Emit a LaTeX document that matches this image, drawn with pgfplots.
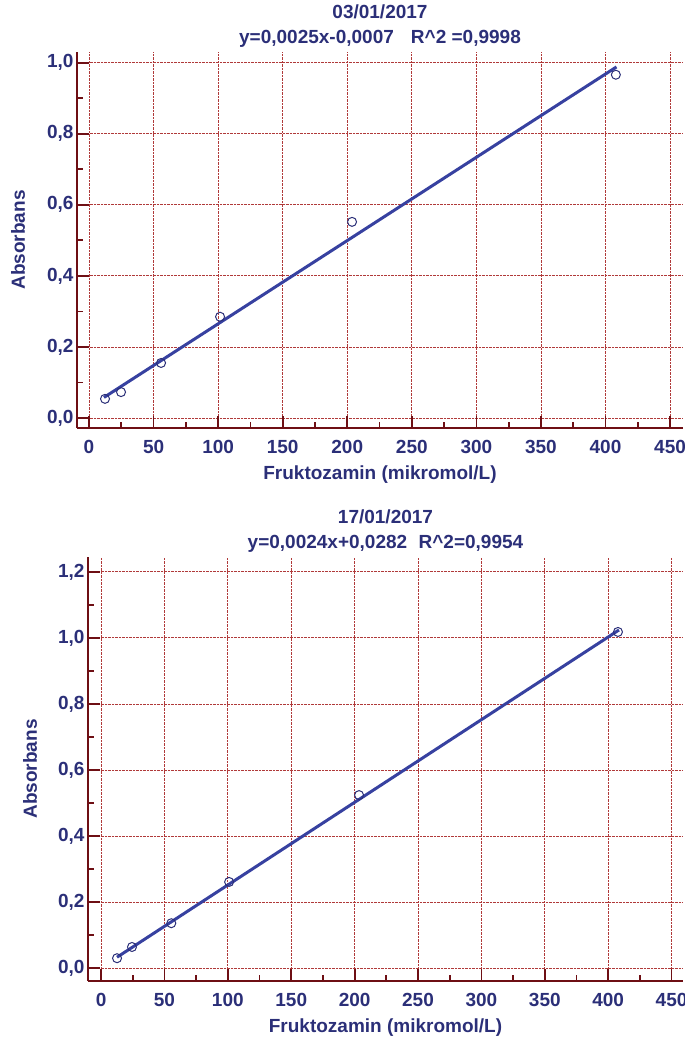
\documentclass[border=0pt]{standalone}
\usepackage{fontspec}
\setmainfont{Liberation Sans}
\usepackage{pgfplots}
\pgfplotsset{compat=1.18}

\definecolor{navy}{HTML}{2B2F78}
\definecolor{fitblue}{HTML}{3741A0}
\definecolor{axred}{HTML}{6E0F14}
\definecolor{gridred}{HTML}{B03A3A}

\newcommand{\chartfont}{\fontsize{19}{25}\selectfont\bfseries}

\pgfplotsset{
  calib/.style={
    scale only axis,
    axis lines=left,
    axis line style={-, draw=axred, line width=2.5pt},
    tick align=inside, tick pos=left,
    major tick length=12pt, minor tick length=6pt,
    every tick/.style={draw=axred, line width=1.8pt},
    grid=major,
    major grid style={draw=gridred, densely dotted, line width=0.8pt},
    xtick={0,50,...,450}, minor x tick num=1, minor y tick num=1,
    /pgf/number format/assume math mode=true,
    ticklabel style={font=\chartfont, text=navy},
    xticklabel style={anchor=center, yshift=-19pt,
      /pgf/number format/.cd, fixed, 1000 sep={}},
    yticklabel style={/pgf/number format/.cd, fixed, fixed zerofill, precision=1, use comma},
    label style={font=\chartfont, text=navy},
    title style={font=\chartfont, text=navy, align=center,
      at={(axis description cs:0.5,1)}, anchor=center, yshift=20pt},
    xlabel={Fruktozamin (mikromol/L)},
    ylabel={Absorbans},
    xlabel style={at={(axis description cs:0.5,0)}, anchor=center, yshift=-47pt},
  },
  pts/.style={only marks, mark=o, mark size=4.5pt, navy, mark options={line width=1pt}},
  fit/.style={fitblue, line width=3pt, no marks},
}

\begin{document}
\begin{tikzpicture}[x=1pt,y=1pt]
\path[use as bounding box] (0,0) rectangle (685,1047);

% 03/01/2017
\begin{axis}[calib,
  at={(77pt,619pt)}, anchor=south west,
  width=606pt, height=376pt,
  xmin=-9.3, xmax=460, ymin=-0.028, ymax=1.03,
  ytick={0,0.2,0.4,0.6,0.8,1.0},
  ylabel style={at={(axis description cs:-0.0974,0.5)}, anchor=center},
  title={03/01/2017\\y=0,0025x-0,0007\hspace{0.9em}R\textasciicircum 2 =0,9998},
]
\addplot[fit] coordinates {(11.6,0.058)(408.5,0.988)};
\addplot[pts] coordinates {
  (12.4,0.054)(24.8,0.073)(55.8,0.155)(101.5,0.285)(203.7,0.552)(408,0.966)
};
\end{axis}

% 17/01/2017
\begin{axis}[calib,
  at={(88pt,66pt)}, anchor=south west,
  width=595pt, height=424pt,
  xmin=-10.3, xmax=459, ymin=-0.039, ymax=1.245,
  ytick={0,0.2,0.4,0.6,0.8,1.0,1.2},
  ylabel style={at={(axis description cs:-0.0975,0.5)}, anchor=center},
  title={17/01/2017\\y=0,0024x+0,0282\hspace{0.6em}R\textasciicircum 2=0,9954},
]
\addplot[fit] coordinates {(12.6,0.033)(408.5,1.024)};
\addplot[pts] coordinates {
  (12.6,0.030)(24.4,0.064)(55.4,0.136)(101,0.261)(203.5,0.524)(407.7,1.018)
};
\end{axis}
\end{tikzpicture}
\end{document}
